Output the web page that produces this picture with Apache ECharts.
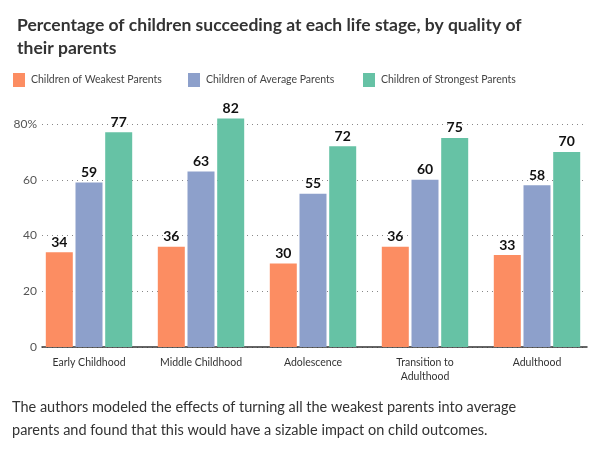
<!DOCTYPE html>
<html><head><meta charset="utf-8">
<script src="https://cdn.jsdelivr.net/npm/echarts@6/dist/echarts.min.js"></script>
<style>html,body{margin:0;padding:0;background:#fff}#c{width:604px;height:451px}</style>
</head><body><div id="c"></div>
<script>
const categories = ["Early Childhood", "Middle Childhood", "Adolescence", "Transition to\nAdulthood", "Adulthood"];
const weakest = [34, 36, 30, 36, 33];
const average = [59, 63, 55, 60, 58];
const strongest = [77, 82, 72, 75, 70];
const seriesNames = ["Children of Weakest Parents", "Children of Average Parents", "Children of Strongest Parents"];
const yTicks = [0, 20, 40, 60, 80];
const colors = ["#FC8D62", "#8DA0CB", "#66C2A5"];
const font = "Lato, 'Open Sans', 'DejaVu Sans', sans-serif";

const chart = echarts.init(document.getElementById('c'), null, {renderer: 'canvas'});
const mkSeries = (name, data, color) => ({
  name, type: 'bar', data, clip: false, barWidth: 27, barGap: '10%',
  itemStyle: {color},
  label: {show: true, position: 'top', distance: 3, color: '#111', fontWeight: 'bold', fontSize: 14, fontFamily: font}
});
const legendAt = (i, left) => ({
  data: [seriesNames[i]], left, top: 73, padding: 0, itemWidth: 12, itemHeight: 14, icon: 'rect', itemGap: 0,
  textStyle: {color: '#444', fontSize: 10.5, fontFamily: font, padding: [0, 0, 0, 1]}, selectedMode: false
});
const yMin = yTicks[0], yMax = yTicks[yTicks.length - 1];
chart.setOption({
  animation: false,
  color: colors,
  title: {
    text: "Percentage of children succeeding at each life stage, by quality of\ntheir parents",
    left: 12, top: 9,
    textStyle: {color: '#333', fontSize: 17.5, fontWeight: 'bold', fontFamily: font, lineHeight: 23}
  },
  legend: [legendAt(0, 13), legendAt(1, 188), legendAt(2, 363)],
  grid: [
    {left: 33, right: 11, top: 124, bottom: 104},
    {left: 42, right: 17, top: 124, bottom: 104}
  ],
  xAxis: [
    {
      type: 'category', data: categories, gridIndex: 0,
      axisLine: {show: false}, axisTick: {show: false},
      axisLabel: {color: '#333', fontSize: 10.5, fontFamily: font, lineHeight: 14, margin: 9, interval: 0}
    },
    {
      type: 'category', data: categories, gridIndex: 1,
      axisLine: {lineStyle: {color: '#333', width: 1.5}}, axisTick: {show: false}, axisLabel: {show: false}
    }
  ],
  yAxis: [
    {type: 'value', gridIndex: 0, min: yMin, max: yMax, interval: 20, show: false, splitLine: {show: false}},
    {
      type: 'value', gridIndex: 1, min: yMin, max: yMax, interval: 20,
      axisLine: {show: false}, axisTick: {show: false},
      axisLabel: {color: '#555', fontSize: 12, fontFamily: font, margin: 5,
        formatter: v => v === yMax ? v + '%' : String(v)},
      splitLine: {lineStyle: {color: '#888', type: [1, 4], width: 1}}
    }
  ],
  series: [
    mkSeries(seriesNames[0], weakest, colors[0]),
    mkSeries(seriesNames[1], average, colors[1]),
    mkSeries(seriesNames[2], strongest, colors[2])
  ],
  graphic: [
    {type: 'text', left: 12, top: 400, style: {text: "The authors modeled the effects of turning all the weakest parents into average", fill: '#333', font: "14.5px " + font}},
    {type: 'text', left: 12, top: 423, style: {text: "parents and found that this would have a sizable impact on child outcomes.", fill: '#333', font: "14.5px " + font}}
  ]
});
</script></body></html>
